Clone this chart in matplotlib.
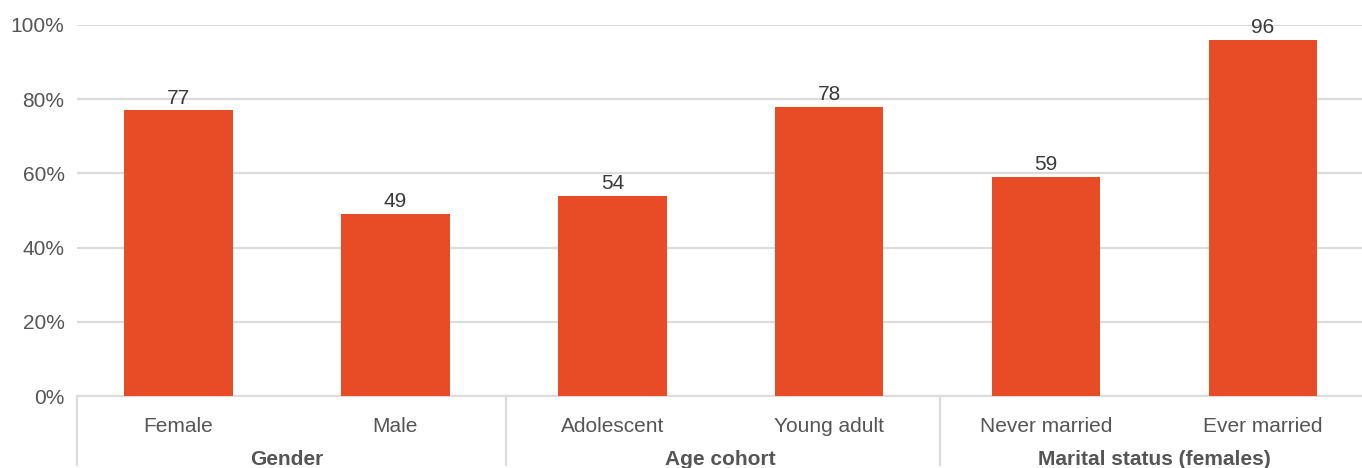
import numpy as np
import matplotlib.pyplot as plt

# Share of respondents, by subgroup
categories = ["Female", "Male", "Adolescent", "Young adult", "Never married", "Ever married"]
values = [77, 49, 54, 78, 59, 96]
groups = ["Gender", "Age cohort", "Marital status (females)"]
group_size = 2

BAR = "#e84c27"
GRID = "#dcdcdc"
TEXT = "#555555"
FS = 15

plt.rcParams['font.family'] = ['Liberation Sans', 'DejaVu Sans']

fig = plt.figure(figsize=(13.62, 4.68), dpi=100)
ax = fig.add_axes([77 / 1362, 72 / 468, 1 - 77 / 1362, 371 / 468])

x = np.arange(len(categories))
bars = ax.bar(x, values, width=0.5, color=BAR, zorder=3)
for b, v in zip(bars, values):
    ax.annotate(f"{v}", (b.get_x() + b.get_width() / 2, v), xytext=(0, 2),
                textcoords="offset points", ha="center", va="bottom",
                fontsize=FS, color="#3a3a3a", zorder=4)

ax.set_ylim(0, 100)
ax.set_xlim(-0.468, 5.456)
ax.set_yticks(np.arange(0, 101, 20))
ax.set_yticklabels([f"{t}%" for t in range(0, 101, 20)])
ax.yaxis.grid(True, color=GRID, linewidth=1.6, zorder=0)
ax.tick_params(axis="y", length=0, pad=9, labelsize=FS, labelcolor=TEXT)
ax.set_xticks(x)
ax.set_xticklabels(categories)
ax.tick_params(axis="x", length=0, pad=15, labelsize=FS, labelcolor=TEXT)
for s in ["top", "right", "left"]:
    ax.spines[s].set_visible(False)
ax.spines["bottom"].set_color(GRID)
ax.spines["bottom"].set_linewidth(1.6)

# group dividers and group names below the category labels
trans = ax.get_xaxis_transform()
edges = [-0.468] + [i * group_size - 0.49 for i in range(1, len(groups))]
for e in edges:
    ax.plot([e, e], [0, -0.185], transform=trans, color=GRID, linewidth=1.6,
            clip_on=False)
for i, g in enumerate(groups):
    cx = i * group_size + (group_size - 1) / 2
    ax.text(cx, -0.17, g, transform=trans, ha="center", va="center",
            fontsize=FS, fontweight="bold", color=TEXT)

fig.savefig("out.png", dpi=100)
